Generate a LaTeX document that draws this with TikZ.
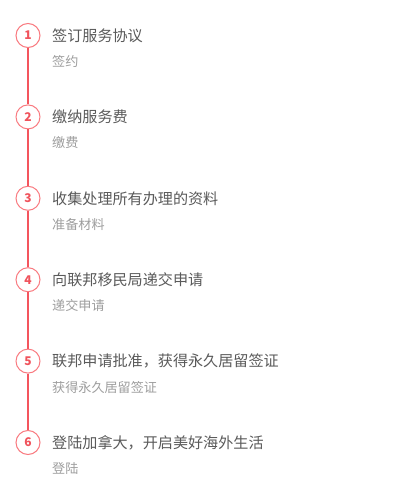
\documentclass[tikz,border=0pt]{standalone}
\usepackage{fontspec}
\setmainfont{Noto Sans CJK SC}
\newfontfamily\numfont{Noto Sans CJK SC}
\definecolor{ringred}{HTML}{F97A80}
\definecolor{linered}{HTML}{F4555E}
\definecolor{numred}{HTML}{F0535C}
\definecolor{titlegray}{HTML}{5A5A5A}
\definecolor{subgray}{HTML}{9E9E9E}
\begin{document}
\begin{tikzpicture}[x=1pt,y=-1pt,
  ring/.style={circle,draw=ringred,line width=1pt,fill=white,minimum size=24pt,inner sep=0pt,
    text=numred,font=\numfont\bfseries\fontsize{12}{12}\selectfont},
  titletext/.style={anchor=west,inner sep=0pt,text=titlegray,font=\fontsize{15.1}{16}\selectfont},
  subtext/.style={anchor=west,inner sep=0pt,text=subgray,font=\fontsize{13.1}{14}\selectfont},
  link/.style={draw=linered,line width=2pt}]
\useasboundingbox[fill=white] (0,0) rectangle (409,489);
\foreach \i/\t/\s in {1/签订服务协议/签约,2/缴纳服务费/缴费,3/收集处理所有办理的资料/准备材料,4/向联邦移民局递交申请/递交申请,5/联邦申请批准，获得永久居留签证/获得永久居留签证,6/登陆加拿大，开启美好海外生活/登陆}{
  \pgfmathsetmacro{\yy}{35.5+81.4*(\i-1)}
  \node[ring] (c\i) at (28,\yy) {\i};
  \node[titletext] (t\i) at (52,\yy) {\t};
  \node[subtext] (s\i) at (52,\yy+26) {\s};
}
\foreach \a/\b in {1/2,2/3,3/4,4/5,5/6}{
  \draw[link] (c\a.south) -- (c\b.north);
}
\end{tikzpicture}
\end{document}
